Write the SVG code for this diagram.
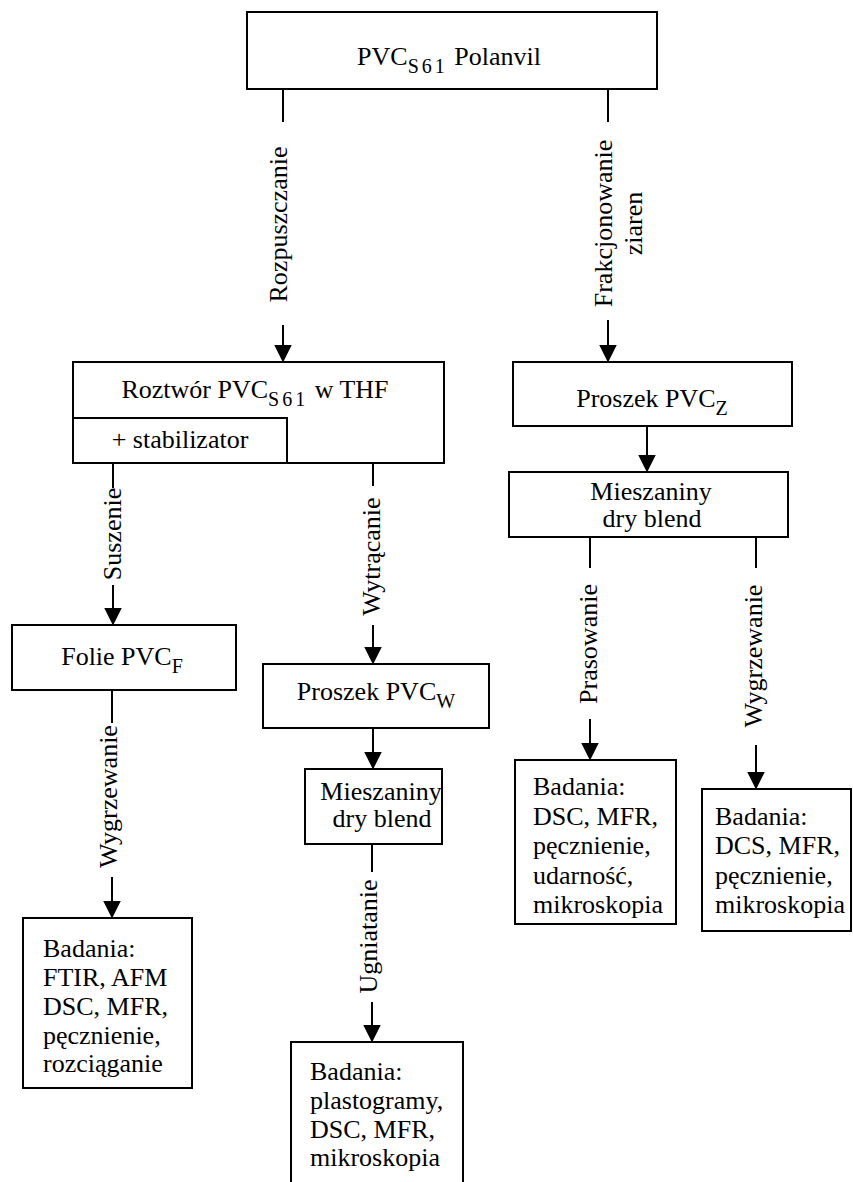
<svg xmlns="http://www.w3.org/2000/svg" width="853" height="1182" viewBox="0 0 853 1182">
<style>
.box{fill:#fff;stroke:#000;stroke-width:2}
.t{font-family:"Liberation Serif","Times New Roman",serif;font-size:26px;fill:#000}
.c{text-anchor:middle}
.sub{font-size:20px}
.ln{stroke:#000;stroke-width:2;fill:none}
.ar{stroke:#000;stroke-width:2;fill:none;marker-end:url(#ah)}
</style>
<defs>
<marker id="ah" markerUnits="userSpaceOnUse" markerWidth="18" markerHeight="18" viewBox="0 0 16 16" refX="12" refY="8" orient="auto"><path d="M0,0 L16,8 L0,16 Z" fill="#000"/></marker>
</defs>
<rect x="0" y="0" width="853" height="1182" fill="#fff"/>

<g id="n_top">
<rect class="box" x="247" y="12" width="410" height="77"/>
<text class="t c" x="449" y="65">PVC<tspan class="sub" dy="8" letter-spacing="3">S61</tspan><tspan dy="-8"> Polanvil</tspan></text>
</g>

<g id="n_roztwor">
<rect class="box" x="73" y="362" width="371" height="101"/>
<rect class="box" x="73" y="418" width="214" height="45"/>
<text class="t c" x="255" y="398">Roztwór PVC<tspan class="sub" dy="8" letter-spacing="3">S61</tspan><tspan dy="-8"> w THF</tspan></text>
<text class="t c" x="180" y="448">+ stabilizator</text>
</g>

<g id="n_proszekZ">
<rect class="box" x="513" y="362" width="279" height="64"/>
<text class="t c" x="652" y="407">Proszek PVC<tspan class="sub" dy="8">Z</tspan></text>
</g>

<g id="n_mieszZ">
<rect class="box" x="509" y="472" width="279" height="65"/>
<text class="t c" x="651" y="500">Mieszaniny</text>
<text class="t c" x="652" y="527">dry blend</text>
</g>

<g id="n_folie">
<rect class="box" x="12" y="625" width="224" height="65"/>
<text class="t c" x="122" y="665">Folie PVC<tspan class="sub" dy="8">F</tspan></text>
</g>

<g id="n_proszekW">
<rect class="box" x="263" y="664" width="226" height="64"/>
<text class="t c" x="376" y="700">Proszek PVC<tspan class="sub" dy="8">W</tspan></text>
</g>

<g id="n_mieszW">
<rect class="box" x="305" y="769" width="137" height="75"/>
<text class="t c" x="381" y="800">Mieszaniny</text>
<text class="t c" x="382" y="827">dry blend</text>
</g>

<g id="n_badF">
<rect class="box" x="23" y="918" width="169" height="170"/>
<text class="t" x="43" y="957">Badania:</text>
<text class="t" x="43" y="986">FTIR, AFM</text>
<text class="t" x="43" y="1015">DSC, MFR,</text>
<text class="t" x="43" y="1043.5">pęcznienie,</text>
<text class="t" x="43" y="1072">rozciąganie</text>
</g>

<g id="n_badW">
<rect class="box" x="291" y="1042" width="172" height="160"/>
<text class="t" x="310" y="1080">Badania:</text>
<text class="t" x="310" y="1109">plastogramy,</text>
<text class="t" x="310" y="1138">DSC, MFR,</text>
<text class="t" x="310" y="1166">mikroskopia</text>
</g>

<g id="n_badP">
<rect class="box" x="515" y="760" width="161" height="164"/>
<text class="t" x="533" y="795">Badania:</text>
<text class="t" x="533" y="824.5">DSC, MFR,</text>
<text class="t" x="533" y="854">pęcznienie,</text>
<text class="t" x="533" y="883.5">udarność,</text>
<text class="t" x="533" y="913">mikroskopia</text>
</g>

<g id="n_badG">
<rect class="box" x="702" y="789" width="149" height="142"/>
<text class="t" x="715" y="824.5">Badania:</text>
<text class="t" x="715" y="854">DCS, MFR,</text>
<text class="t" x="715" y="883.5">pęcznienie,</text>
<text class="t" x="715" y="913">mikroskopia</text>
</g>

<g id="connectors">
<line class="ln" x1="283" y1="89" x2="283" y2="122"/>
<line class="ar" x1="283" y1="325" x2="283" y2="358"/>
<text class="t c" transform="translate(287,224.5) rotate(-90)">Rozpuszczanie</text>

<line class="ln" x1="608" y1="89" x2="608" y2="122"/>
<line class="ar" x1="608" y1="320" x2="608" y2="358"/>
<text class="t c" transform="translate(612,223.5) rotate(-90)">Frakcjonowanie</text>
<text class="t c" transform="translate(642,223.5) rotate(-90)">ziaren</text>

<line class="ar" x1="647" y1="426" x2="647" y2="468"/>

<line class="ln" x1="113" y1="463" x2="113" y2="488"/>
<line class="ar" x1="113" y1="585" x2="113" y2="621"/>
<text class="t c" transform="translate(121,534) rotate(-90)">Suszenie</text>

<line class="ln" x1="373" y1="463" x2="373" y2="486"/>
<line class="ar" x1="373" y1="625" x2="373" y2="660"/>
<text class="t c" transform="translate(380,556.5) rotate(-90)">Wytrącanie</text>

<line class="ln" x1="112" y1="690" x2="112" y2="723"/>
<line class="ar" x1="112" y1="877" x2="112" y2="914"/>
<text class="t c" transform="translate(117,796.5) rotate(-90)">Wygrzewanie</text>

<line class="ar" x1="373" y1="728" x2="373" y2="765"/>

<line class="ln" x1="372" y1="844" x2="372" y2="872"/>
<line class="ar" x1="372" y1="1002" x2="372" y2="1038"/>
<text class="t c" transform="translate(377,936.5) rotate(-90)">Ugniatanie</text>

<line class="ln" x1="590" y1="537" x2="590" y2="568"/>
<line class="ar" x1="590" y1="719" x2="590" y2="756"/>
<text class="t c" transform="translate(597,644) rotate(-90)">Prasowanie</text>

<line class="ln" x1="756" y1="537" x2="756" y2="568"/>
<line class="ar" x1="756" y1="745" x2="756" y2="785"/>
<text class="t c" transform="translate(762,656) rotate(-90)">Wygrzewanie</text>
</g>
</svg>
